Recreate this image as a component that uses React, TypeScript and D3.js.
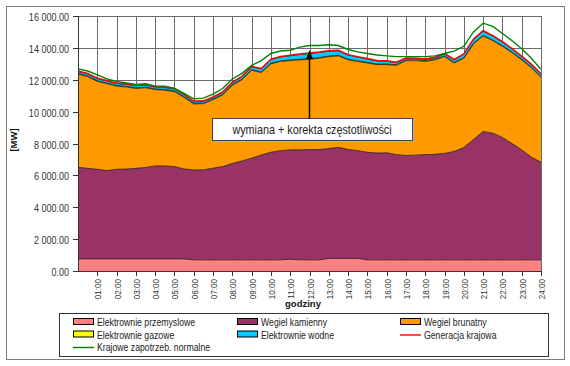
import React, { useEffect, useRef } from 'react';
import * as d3 from 'd3';

// half-hour steps, 00:00 .. 24:00
const HOURS = d3.range(49).map(i => i / 2);

const TICK_LABELS = [
  '01:00', '02:00', '03:00', '04:00', '05:00', '06:00', '07:00', '08:00',
  '09:00', '10:00', '11:00', '12:00', '13:00', '14:00', '15:00', '16:00',
  '17:00', '18:00', '19:00', '20:00', '21:00', '22:00', '23:00', '24:00',
];

const Y_TICKS = [0, 2000, 4000, 6000, 8000, 10000, 12000, 14000, 16000];

const przemyslowe = [
  760, 760, 760, 760, 760, 760, 760, 760, 760, 760, 760, 760,
  700, 700, 700, 700, 700, 700, 700, 700, 700, 700,
  740, 700, 700, 700,
  790, 790, 790, 790,
  700, 700, 700, 700, 700, 700, 700, 700, 700, 700, 700, 700, 700, 700, 700, 700, 700, 700, 700,
];

const kamienny = [
  5745, 5680, 5620, 5540, 5620, 5640, 5680, 5740, 5830, 5830, 5790, 5640,
  5640, 5650, 5750, 5850, 6050, 6200, 6380, 6580, 6750, 6850,
  6860, 6900, 6920, 6920,
  6890, 6970, 6830, 6760,
  6750, 6700, 6720, 6600, 6550, 6570, 6600, 6620, 6680, 6800, 7050, 7550,
  8050, 7950, 7680, 7300, 6900, 6450, 6120,
];

const brunatny = [
  5845, 5760, 5520, 5450, 5220, 5150, 5010, 5000, 4790, 4760, 4700, 4500,
  4140, 4150, 4300, 4500, 4900, 5100, 5520, 5170, 5550, 5600,
  5600, 5650, 5660, 5730, 5770, 5740, 5630, 5600,
  5600, 5550, 5530, 5600, 5950, 5930, 5850, 5930, 6070, 5550, 5600, 6000,
  6000, 5800, 5720, 5700, 5650, 5600, 5330,
];

const gazowe = [
  40, 40, 40, 40, 40, 40, 40, 40, 40, 40, 40, 40,
  40, 40, 40, 40, 40, 40, 40, 40, 40, 40,
  40, 40, 40, 40, 40, 40, 40, 40,
  40, 40, 40, 40, 50, 50, 50, 50, 40, 40, 40, 40,
  40, 40, 40, 40, 40, 40, 40,
];

const wodne = [
  120, 120, 120, 120, 120, 120, 120, 120, 120, 120, 120, 110,
  100, 100, 100, 110, 120, 140, 160, 180, 220, 240,
  260, 290, 320, 310, 290, 270, 250, 220,
  200, 180, 160, 120, 90, 80, 80, 90, 120, 150, 200, 230,
  250, 240, 210, 180, 150, 150, 150,
];

const generacja = [
  12550, 12400, 12100, 11950, 11800, 11750, 11650, 11700, 11580, 11550, 11450, 11090,
  10660, 10680, 10930, 11240, 11850, 12220, 12840, 12710, 13300, 13460,
  13540, 13620, 13680, 13740, 13820, 13850, 13580, 13450,
  13330, 13210, 13190, 13100, 13370, 13360, 13310, 13420, 13650, 13280, 13630, 14560,
  15080, 14770, 14390, 13960, 13480, 12980, 12380,
];

const zapotrzebowanie = [
  12680, 12550, 12300, 12050, 11900, 11800, 11700, 11750, 11600, 11600, 11450, 11150,
  10800, 10850, 11100, 11450, 12050, 12400, 12900, 13200, 13650, 13800,
  13850, 14050, 14150, 14150, 14200, 14150, 13900, 13750,
  13650, 13550, 13500, 13450, 13450, 13450, 13450, 13500, 13650, 13800, 14100, 15000,
  15550, 15350, 14900, 14450, 13950, 13350, 12650,
];

const SERIES = [
  { key: 'przemyslowe', name: 'Elektrownie przemyslowe', color: '#FF8080', values: przemyslowe },
  { key: 'kamienny', name: 'Wegiel kamienny', color: '#993366', values: kamienny },
  { key: 'brunatny', name: 'Wegiel brunatny', color: '#FF9900', values: brunatny },
  { key: 'gazowe', name: 'Elektrownie gazowe', color: '#FFFF00', values: gazowe },
  { key: 'wodne', name: 'Elektrownie wodne', color: '#00CCFF', values: wodne },
];

const LINES = [
  { name: 'Generacja krajowa', color: '#FF0000', values: generacja },
  { name: 'Krajowe zapotrzeb. normalne', color: '#008000', values: zapotrzebowanie },
];

const FONT = '"Liberation Sans", Arial, sans-serif';
const W = 570;
const H = 366;
const M = { left: 78, right: 541, top: 16, bottom: 271 };

const fmt = d3.formatLocale({
  decimal: '.', thousands: ' ', grouping: [3], currency: ['', ''],
}).format(',.2f');

export default function App() {
  const svgRef = useRef<SVGSVGElement>(null);

  useEffect(() => {
    if (!svgRef.current) return;
    const svg = d3.select(svgRef.current);
    svg.selectAll('*').remove();

    const x = d3.scaleLinear().domain([0, 24]).range([M.left, M.right]);
    const y = d3.scaleLinear().domain([0, 16000]).range([M.bottom, M.top]);

    // outer frame
    svg.append('rect')
      .attr('x', 6.5).attr('y', 6.5).attr('width', 558).attr('height', 353)
      .attr('fill', '#fff').attr('stroke', '#7a7a7a');

    // grid
    const grid = svg.append('g').attr('stroke', '#6a6a6a').attr('stroke-width', 1);
    Y_TICKS.forEach(t => {
      grid.append('line')
        .attr('x1', M.left).attr('x2', M.right)
        .attr('y1', Math.round(y(t)) + 0.5).attr('y2', Math.round(y(t)) + 0.5);
    });
    d3.range(1, 25).forEach(h => {
      grid.append('line')
        .attr('x1', Math.round(x(h)) + 0.5).attr('x2', Math.round(x(h)) + 0.5)
        .attr('y1', M.top).attr('y2', M.bottom);
    });

    // stacked areas
    const rows = HOURS.map((h, i) => {
      const r: Record<string, number> = { h };
      SERIES.forEach(s => { r[s.key] = s.values[i]; });
      return r;
    });
    const stack = d3.stack<Record<string, number>>().keys(SERIES.map(s => s.key));
    const layers = stack(rows);
    const area = d3.area<d3.SeriesPoint<Record<string, number>>>()
      .x(d => x(d.data.h))
      .y0(d => y(d[0]))
      .y1(d => y(d[1]));
    const topLine = d3.line<d3.SeriesPoint<Record<string, number>>>()
      .x(d => x(d.data.h))
      .y(d => y(d[1]));

    layers.forEach((layer, i) => {
      svg.append('path').attr('d', area(layer) || '').attr('fill', SERIES[i].color);
    });
    layers.forEach(layer => {
      svg.append('path').attr('d', topLine(layer) || '')
        .attr('fill', 'none').attr('stroke', '#1a1a1a').attr('stroke-width', 0.8);
    });

    // lines
    LINES.forEach(l => {
      const line = d3.line<number>()
        .x((_, i) => x(HOURS[i]))
        .y(d => y(d));
      svg.append('path').attr('d', line(l.values) || '')
        .attr('fill', 'none').attr('stroke', l.color).attr('stroke-width', 1.4);
    });

    // right border of plot
    svg.append('line')
      .attr('x1', M.right + 0.5).attr('x2', M.right + 0.5)
      .attr('y1', M.top).attr('y2', M.bottom).attr('stroke', '#6a6a6a');

    // y axis
    const yAxis = svg.append('g').attr('font-family', FONT).attr('font-size', 10.5).attr('fill', '#333');
    yAxis.append('line')
      .attr('x1', M.left + 0.5).attr('x2', M.left + 0.5)
      .attr('y1', M.top).attr('y2', M.bottom).attr('stroke', '#333');
    Y_TICKS.forEach(t => {
      const yy = Math.round(y(t)) + 0.5;
      yAxis.append('line').attr('x1', M.left - 5).attr('x2', M.left)
        .attr('y1', yy).attr('y2', yy).attr('stroke', '#333');
      yAxis.append('text')
        .attr('transform', `translate(69,${yy + 4}) scale(0.86,1)`)
        .attr('text-anchor', 'end').text(fmt(t));
    });

    // x axis
    const xAxis = svg.append('g').attr('font-family', FONT).attr('font-size', 9).attr('fill', '#333');
    xAxis.append('line')
      .attr('x1', M.left).attr('x2', M.right)
      .attr('y1', M.bottom + 0.5).attr('y2', M.bottom + 0.5).attr('stroke', '#333');
    TICK_LABELS.forEach((lab, i) => {
      const xx = Math.round(x(i + 1)) + 0.5;
      xAxis.append('line').attr('x1', xx).attr('x2', xx)
        .attr('y1', M.bottom).attr('y2', M.bottom + 5).attr('stroke', '#333');
      xAxis.append('text')
        .attr('transform', `translate(${xx + 3},${M.bottom + 8}) rotate(-90) scale(0.9,1)`)
        .attr('text-anchor', 'end').text(lab);
    });

    svg.append('text').attr('x', 303).attr('y', 307)
      .attr('text-anchor', 'middle').attr('font-family', FONT)
      .attr('font-size', 9.5).attr('font-weight', 'bold').attr('fill', '#111').text('godziny');

    svg.append('text')
      .attr('transform', 'translate(17,140) rotate(-90)')
      .attr('text-anchor', 'middle').attr('font-family', FONT)
      .attr('font-size', 9.5).attr('font-weight', 'bold').attr('fill', '#111').text('[MW]');

    // annotation
    const ax = 309.5;
    svg.append('line').attr('x1', ax).attr('x2', ax).attr('y1', 118).attr('y2', 57)
      .attr('stroke', '#000').attr('stroke-width', 1.5);
    svg.append('path')
      .attr('d', `M${ax},50 L${ax - 3.5},59 L${ax + 3.5},59 Z`).attr('fill', '#000');
    svg.append('rect').attr('x', 214).attr('y', 120).attr('width', 200).attr('height', 22)
      .attr('fill', '#b0b0b0');
    svg.append('rect').attr('x', 212.5).attr('y', 118.5).attr('width', 200).attr('height', 22)
      .attr('fill', '#fff').attr('stroke', '#444');
    svg.append('text')
      .attr('transform', 'translate(312,134) scale(0.9,1)')
      .attr('text-anchor', 'middle').attr('font-family', FONT)
      .attr('font-size', 12).attr('fill', '#222').text('wymiana + korekta częstotliwości');

    // legend
    const lg = svg.append('g').attr('font-family', FONT).attr('font-size', 10.5).attr('fill', '#222');
    lg.append('rect').attr('x', 59.5).attr('y', 313.5).attr('width', 489).attr('height', 43)
      .attr('fill', '#fff').attr('stroke', '#333');
    const items = [
      ...SERIES.map(s => ({ name: s.name, color: s.color, type: 'area' })),
      ...LINES.map(l => ({ name: l.name, color: l.color, type: 'line' })),
    ];
    const colX = [73, 237, 400];
    const rowY = [322, 334.5, 347];
    items.forEach((it, i) => {
      const cx = colX[i % 3];
      const cy = rowY[Math.floor(i / 3)];
      if (it.type === 'area') {
        lg.append('rect').attr('x', cx + 0.5).attr('y', cy - 3.5).attr('width', 20).attr('height', 6)
          .attr('fill', it.color).attr('stroke', '#000').attr('stroke-width', 1);
      } else {
        lg.append('line').attr('x1', cx).attr('x2', cx + 21).attr('y1', cy + 0.5).attr('y2', cy + 0.5)
          .attr('stroke', it.color).attr('stroke-width', 1.4);
      }
      lg.append('text')
        .attr('transform', `translate(${cx + 24},${cy + 4}) scale(0.83,1)`)
        .text(it.name);
    });
  }, []);

  return (
    <svg
      ref={svgRef}
      width={W}
      height={H}
      style={{ position: 'absolute', left: 0, top: 0, background: '#fff' }}
    />
  );
}
